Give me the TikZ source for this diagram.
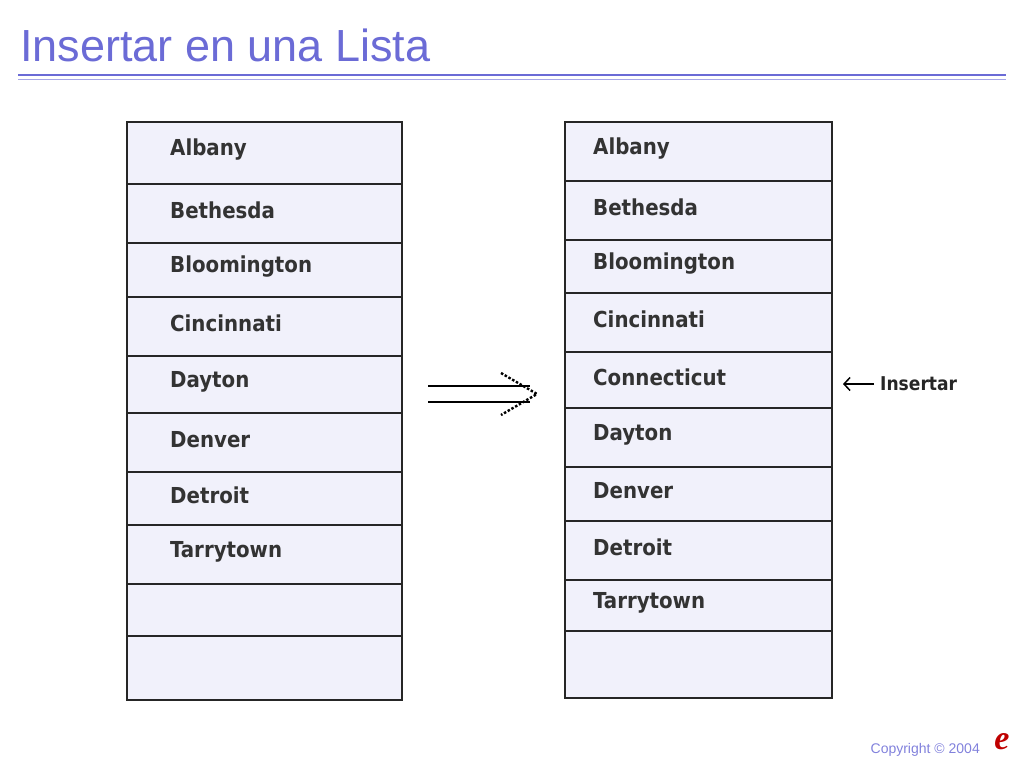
\documentclass[tikz,border=0pt]{standalone}
\usepackage{fontspec}
\setmainfont{Liberation Sans}
\newfontfamily\rowfont{DejaVu Sans Condensed}
\newfontfamily\condfont{DejaVu Sans Condensed}
\newfontfamily\logofont{Liberation Serif}
\usetikzlibrary{arrows.meta}
\definecolor{ttl}{HTML}{6B6BD6}
\definecolor{rowbg}{HTML}{F1F1FB}
\begin{document}
\begin{tikzpicture}[x=1pt,y=-1pt,
  rowbox/.style={draw=black!85, line width=2.8pt, fill=rowbg, anchor=north west, inner sep=0pt, outer sep=0pt},
  rowtxt/.style={anchor=west, font=\rowfont\bfseries\fontsize{22}{24}\selectfont, text=black!80, inner sep=0pt},
  tip/.style={line width=2.4pt, dash pattern=on 2.5pt off 1.8pt}]
\useasboundingbox (0,0) rectangle (1024,768);
\node[anchor=base west, text=ttl, font=\fontsize{45}{48}\selectfont, inner sep=0pt] (title) at (20,62) {Insertar en una Lista};
\draw[ttl, line width=2.5pt] (18,75) -- (1006,75);
\draw[ttl!60, line width=1pt] (18,79) -- (1006,79);
% left table
\def\lx{127}\def\lw{275}
\foreach \a/\b/\t [count=\i] in {122/184/Albany,184/243/Bethesda,243/297/Bloomington,297/356/Cincinnati,356/413/Dayton,413/472/Denver,472/525/Detroit,525/584/Tarrytown,584/636/{},636/700/{}}{
  \node[rowbox, minimum width=\lw pt, minimum height={(\b-\a)*1pt}] (L\i) at (\lx,\a) {};
  \node[rowtxt] (LT\i) at (170,{(\a+\b)/2-3}) {\t};
}
% right table
\def\rx{565}\def\rw{267}
\foreach \a/\b/\t [count=\i] in {122/181/Albany,181/240/Bethesda,240/293/Bloomington,293/352/Cincinnati,352/408/Connecticut,408/467/Dayton,467/521/Denver,521/580/Detroit,580/631/Tarrytown,631/698/{}}{
  \node[rowbox, minimum width=\rw pt, minimum height={(\b-\a)*1pt}] (R\i) at (\rx,\a) {};
  \node[rowtxt] (RT\i) at (593,{(\a+\b)/2-3}) {\t};
}
% big double arrow
\coordinate (da1) at (428,386);
\coordinate (db1) at (530,386);
\coordinate (da2) at (428,402);
\coordinate (db2) at (530,402);
\coordinate (dt) at (537,394);
\draw[line width=2.5pt] (da1) -- (db1);
\draw[line width=2.5pt] (da2) -- (db2);
\draw[tip] (501,373) -- (dt) -- (501,415);
% insertar
\node[anchor=west, font=\condfont\bfseries\fontsize{19}{22}\selectfont, text=black!85, inner sep=0pt] (ins) at (880,384) {Insertar};
\coordinate (ia) at (874,384);
\coordinate (ib) at (843,384);
\draw[line width=1.5pt, -{Straight Barb[length=6pt,width=13pt]}] (ia) -- (ib);
% footer
\node[anchor=base east, text=ttl!85, font=\fontsize{14}{16}\selectfont, inner sep=0pt] (copy) at (980,753) {Copyright © 2004};
\node[text=red!75!black, font=\logofont\bfseries\itshape\fontsize{34}{34}\selectfont, inner sep=0pt] (elogo) at (1002,742) {e};
\end{tikzpicture}
\end{document}
